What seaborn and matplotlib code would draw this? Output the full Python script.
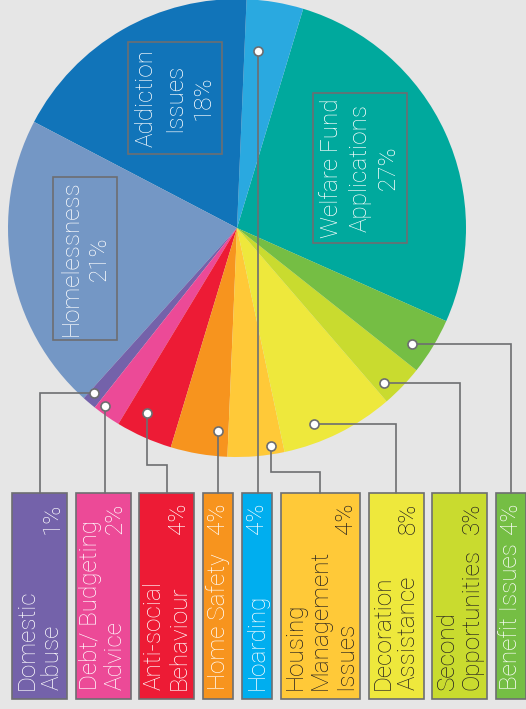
import numpy as np
import matplotlib.pyplot as plt
import matplotlib.patches as mpatches
import seaborn as sns

sns.set_style("white")
plt.rcParams["font.family"] = ["Roboto", "DejaVu Sans"]

# slices, counter-clockwise from the Welfare Fund wedge
categories = ["Welfare Fund Applications", "Hoarding", "Addiction Issues", "Homelessness",
              "Domestic Abuse", "Debt/ Budgeting Advice", "Anti-social Behaviour", "Home Safety",
              "Housing Management Issues", "Decoration Assistance", "Second Opportunities",
              "Benefit Issues"]
shares = [27, 4, 18, 21, 1, 2, 4, 4, 4, 8, 3, 4]
slice_colors = ["#00A99D", "#2AA9E0", "#1174B9", "#7497C5", "#7462AA", "#EC4A97",
                "#ED1B35", "#F7941E", "#FFC938", "#EEE83C", "#C9DB2F", "#75BE44"]

# labels written in boxes inside the pie
inner_labels = {
    "Addiction Issues": ["Addiction", "Issues"],
    "Welfare Fund Applications": ["Welfare Fund", "Applications"],
    "Homelessness": ["Homelessness"],
}

# boxes along the bottom, left to right
box_order = ["Domestic Abuse", "Debt/ Budgeting Advice", "Anti-social Behaviour", "Home Safety",
             "Hoarding", "Housing Management Issues", "Decoration Assistance",
             "Second Opportunities", "Benefit Issues"]
box_lines = [["Domestic", "Abuse"], ["Debt/ Budgeting", "Advice"], ["Anti-social", "Behaviour"],
             ["Home Safety"], ["Hoarding"], ["Housing", "Management", "Issues"],
             ["Decoration", "Assistance"], ["Second", "Opportunities"], ["Benefit Issues"]]
box_colors = ["#7462AA", "#EC4A97", "#ED1B35", "#F7941E", "#00AEEF", "#FFC938",
              "#EEE83C", "#C9DB2F", "#75BE44"]
box_text = ["white", "white", "white", "white", "white", "#231F20", "#231F20", "#231F20", "white"]

# layout (pixels, y measured upward)
W, H = 526, 709
cx0, cy0, R = 237, 481, 229
grey = "#6D6E71"
fs = 17.5
dot_pos = {  # fraction along wedge, fraction of radius
    "Domestic Abuse": (0.28, 0.952), "Debt/ Budgeting Advice": (0.25, 0.968),
    "Anti-social Behaviour": (0.36, 0.90), "Home Safety": (0.79, 0.89),
    "Hoarding": (0.70, 0.78), "Housing Management Issues": (0.78, 0.963),
    "Decoration Assistance": (0.33, 0.92), "Second Opportunities": (0.25, 0.933),
    "Benefit Issues": (0.34, 0.917),
}
route = {  # "h": across then down, "s": straight down, number: elbow height
    "Domestic Abuse": "h", "Debt/ Budgeting Advice": "s", "Anti-social Behaviour": 244,
    "Home Safety": "s", "Hoarding": "s", "Housing Management Issues": 237,
    "Decoration Assistance": "h", "Second Opportunities": "h", "Benefit Issues": "h",
}
inner_box = {  # centre x, centre y, width, height
    "Addiction Issues": (175, 611, 94, 112),
    "Welfare Fund Applications": (360, 541, 94, 150),
    "Homelessness": (85, 450.5, 64, 163),
}

fig = plt.figure(figsize=(W / 100, H / 100), dpi=100)
fig.patch.set_facecolor("#E6E6E6")
ax = fig.add_axes([0, 0, 1, 1])
ax.set_facecolor("#E6E6E6")

wedges, _ = ax.pie(shares, colors=slice_colors, startangle=336, counterclock=True,
                   center=(cx0, cy0), radius=R, wedgeprops=dict(linewidth=0), frame=True)
wedge_of = dict(zip(categories, wedges))

# labels inside the pie
for name, lines in inner_labels.items():
    bx, by, bw, bh = inner_box[name]
    ax.add_patch(mpatches.Rectangle((bx - bw / 2, by - bh / 2), bw, bh, fill=False,
                                    edgecolor=grey, lw=1.2, zorder=3))
    pct = shares[categories.index(name)]
    all_lines = lines + [f"{pct}%"]
    n = len(all_lines)
    for j, txt in enumerate(all_lines):
        ax.text(bx + (j - (n - 1) / 2) * 28.5, by, txt, rotation=90, rotation_mode="anchor",
                ha="center", va="center", color="white", fontsize=fs, fontweight="light",
                zorder=4)

# bottom boxes and connectors
left = 12
box_bottom, box_top = 10, 216
for name, lines, col, tcol in zip(box_order, box_lines, box_colors, box_text):
    n = len(lines)
    bw = 6 + 24.5 * n
    bcx = left + bw / 2
    ax.add_patch(mpatches.Rectangle((left, box_bottom), bw, box_top - box_bottom,
                                    facecolor=col, edgecolor=grey, lw=1.2, zorder=3))
    for j, txt in enumerate(lines):
        ax.text(bcx + (j - (n - 1) / 2) * 25, 19, txt, rotation=90, rotation_mode="anchor",
                ha="left", va="center", color=tcol, fontsize=fs, fontweight="light", zorder=4)
    pct = shares[categories.index(name)]
    ax.text(bcx + (n - 1) / 2 * 25, 206, f"{pct}%", rotation=90, rotation_mode="anchor",
            ha="right", va="center", color=tcol, fontsize=fs, fontweight="light", zorder=4)

    w = wedge_of[name]
    frac, rf = dot_pos[name]
    ang = np.deg2rad(w.theta1 + frac * (w.theta2 - w.theta1))
    dx, dy = cx0 + rf * R * np.cos(ang), cy0 + rf * R * np.sin(ang)
    r = route[name]
    if r == "h":
        xs, ys = [dx, bcx, bcx], [dy, dy, box_top]
    elif r == "s":
        xs, ys = [dx, dx], [dy, box_top]
    else:
        xs, ys = [dx, dx, bcx, bcx], [dy, r, r, box_top]
    ax.plot(xs, ys, color=grey, lw=1.2, zorder=5, solid_joinstyle="miter")
    ax.plot(dx, dy, "o", ms=6.5, mfc="white", mec=grey, mew=1.2, zorder=6)
    left += bw + 8.5

ax.set_xlim(0, W)
ax.set_ylim(0, H)
ax.axis("off")
fig.savefig("out.png", dpi=100)
